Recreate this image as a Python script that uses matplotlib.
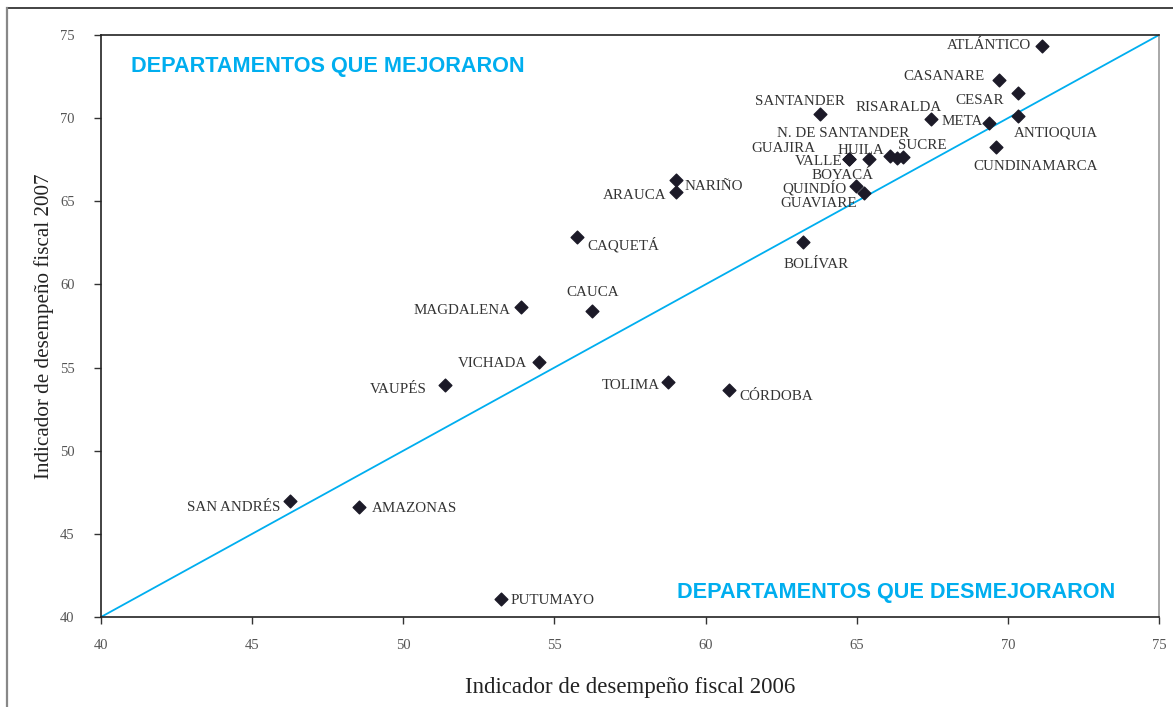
import matplotlib.pyplot as plt
from matplotlib.lines import Line2D

# Indicador de desempeño fiscal por departamento
departamentos = ['ATLÁNTICO', 'CASANARE', 'CESAR', 'ANTIOQUIA', 'META', 'CUNDINAMARCA',
                 'RISARALDA', 'SANTANDER', 'N. DE SANTANDER', 'BOYACÁ', 'SUCRE', 'HUILA',
                 'VALLE', 'GUAJIRA', 'QUINDÍO', 'GUAVIARE', 'NARIÑO', 'ARAUCA', 'CAQUETÁ',
                 'BOLÍVAR', 'MAGDALENA', 'CAUCA', 'VICHADA', 'VAUPÉS', 'TOLIMA', 'CÓRDOBA',
                 'SAN ANDRÉS', 'AMAZONAS', 'PUTUMAYO']
idf_2006 = [71.13, 69.71, 70.33, 70.33, 69.37, 69.61,
            67.46, 63.78, 66.10, 66.32, 66.52, 65.42,
            64.75, 64.75, 64.98, 65.24, 59.02, 59.02, 55.75,
            63.22, 53.89, 56.24, 54.49, 51.38, 58.76, 60.77,
            46.25, 48.53, 53.23]
idf_2007 = [74.34, 72.29, 71.51, 70.13, 69.71, 68.27,
            69.95, 70.25, 67.72, 67.62, 67.68, 67.53,
            67.53, 67.53, 65.94, 65.48, 66.28, 65.56, 62.85,
            62.55, 58.64, 58.40, 55.34, 53.95, 54.13, 53.65,
            46.98, 46.62, 41.09]

# label placement: (dx, dy) in pixels, horizontal alignment
label_pos = {
    'ATLÁNTICO': (-11, 2, 'right'), 'CASANARE': (-14, 6, 'right'), 'CESAR': (-14, -5, 'right'),
    'ANTIOQUIA': (-4, -15, 'left'), 'META': (-6, 3, 'right'), 'CUNDINAMARCA': (40, -18, 'center'),
    'RISARALDA': (11, 13, 'right'), 'SANTANDER': (-20, 14, 'center'),
    'N. DE SANTANDER': (-47, 25, 'center'), 'BOYACÁ': (-54, -16, 'center'),
    'SUCRE': (20, 13, 'center'), 'HUILA': (-9, 11, 'center'), 'VALLE': (-7, 0, 'right'),
    'GUAJIRA': (-66, 13, 'center'), 'QUINDÍO': (-9, 0, 'right'), 'GUAVIARE': (-7, -8, 'right'),
    'NARIÑO': (9, -4, 'left'), 'ARAUCA': (-9, -2, 'right'), 'CAQUETÁ': (10, -6, 'left'),
    'BOLÍVAR': (13, -20, 'center'), 'MAGDALENA': (-10, -1, 'right'), 'CAUCA': (1, 21, 'center'),
    'VICHADA': (-12, 0, 'right'), 'VAUPÉS': (-18, -2, 'right'), 'TOLIMA': (-8, -1, 'right'),
    'CÓRDOBA': (11, -4, 'left'), 'SAN ANDRÉS': (-10, -5, 'right'), 'AMAZONAS': (13, 0, 'left'),
    'PUTUMAYO': (10, 0, 'left'),
}

serif = ['Liberation Serif', 'DejaVu Serif']
blue = '#00AEEF'

fig = plt.figure(figsize=(11.73, 7.07), dpi=100)
ax = fig.add_axes([101 / 1173, 1 - 617 / 707, 1058 / 1173, 582 / 707])

ax.plot([40, 75], [40, 75], color=blue, lw=1.3, zorder=1)
ax.scatter(idf_2006, idf_2007, marker='D', s=42, color='#1c1a28', zorder=3)

for name, x, y in zip(departamentos, idf_2006, idf_2007):
    dx, dy, ha = label_pos[name]
    ax.annotate(name, (x, y), xytext=(dx, dy - 2), textcoords='offset pixels',
                ha=ha, va='center', fontsize=10.8, family=serif, color='#333333')

ax.text(40.99, 73.1, 'DEPARTAMENTOS QUE MEJORARON', color=blue, fontsize=15.6,
        fontweight='bold', family=['Liberation Sans', 'DejaVu Sans'], va='center')
ax.text(59.05, 41.45, 'DEPARTAMENTOS QUE DESMEJORARON', color=blue, fontsize=15.6,
        fontweight='bold', family=['Liberation Sans', 'DejaVu Sans'], va='center')

ax.set_xlim(40, 75)
ax.set_ylim(40, 75)
ax.set_xticks(range(40, 76, 5))
ax.set_yticks(range(40, 76, 5))
ax.tick_params(axis='both', direction='out', length=5, width=1, labelsize=10.5,
               labelcolor='#555555', color='#333333')
ax.tick_params(axis='x', pad=11)
ax.tick_params(axis='y', pad=14)
for lab in ax.get_xticklabels() + ax.get_yticklabels():
    lab.set_family(serif)

for side in ['left', 'bottom', 'top']:
    ax.spines[side].set_color('#222222')
ax.spines['right'].set_color('#999999')
for sp in ax.spines.values():
    sp.set_linewidth(1.2)

ax.set_xlabel('Indicador de desempeño fiscal 2006', family=serif, fontsize=16.5,
              color='#222222', labelpad=18)
ax.set_ylabel('Indicador de desempeño fiscal 2007', family=serif, fontsize=15.2,
              color='#222222', labelpad=4)

# outer frame of the figure
fig.add_artist(Line2D([7 / 1173, 1], [1 - 8 / 707, 1 - 8 / 707], color='#222222', lw=1.2,
                      transform=fig.transFigure))
fig.add_artist(Line2D([7 / 1173, 7 / 1173], [0, 1 - 8 / 707], color='#888888', lw=1.6,
                      transform=fig.transFigure))

fig.savefig('out.png', dpi=100)
